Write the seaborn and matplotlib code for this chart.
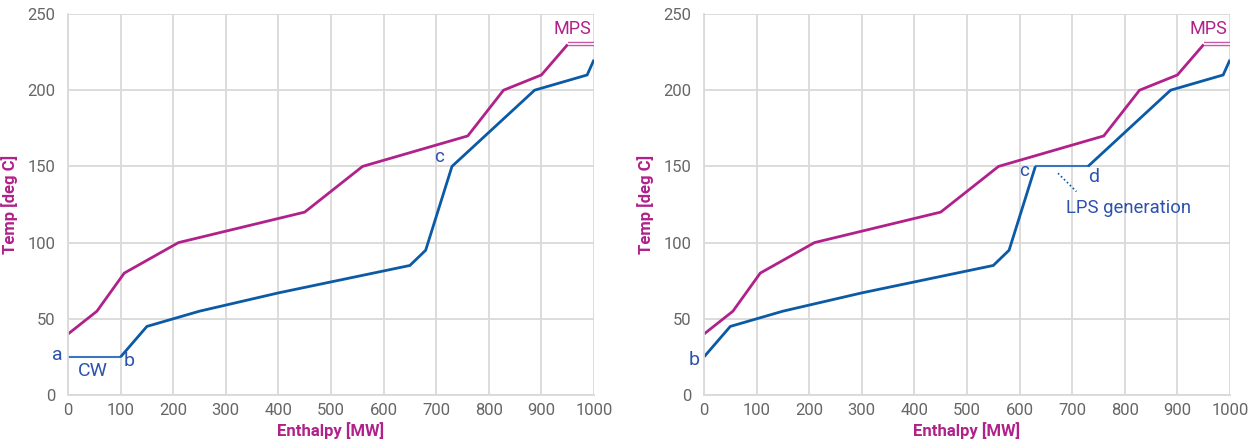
import matplotlib
matplotlib.use("Agg")
import matplotlib.pyplot as plt
from matplotlib.ticker import MultipleLocator
import seaborn as sns
import pandas as pd

sns.set_theme(style="white")
plt.rcParams['font.family'] = ['Roboto', 'DejaVu Sans']

# ---- data ----
hot_h = [0, 55, 107, 210, 450, 560, 760, 828, 900, 950]
hot_t = [40, 55, 80, 100, 120, 150, 170, 200, 210, 230]
mps_h = [950, 1000]
mps_t = [230, 230]

cold1_h = [100, 150, 250, 400, 650, 680, 730, 887, 987, 1000]
cold1_t = [25, 45, 55, 67, 85, 95, 150, 200, 210, 220]
cw_h = [0, 100]
cw_t = [25, 25]

cold2a_h = [0, 50, 150, 300, 550, 580, 630]
cold2a_t = [25, 45, 55, 67, 85, 95, 150]
lps_h = [630, 730]
lps_t = [150, 150]
cold2b_h = [730, 887, 987, 1000]
cold2b_t = [150, 200, 210, 220]

x_ticks = list(range(0, 1001, 100))
y_ticks = list(range(0, 251, 50))

MAG = "#b0218a"
MAG_LIGHT = "#c65aa9"
BLUE = "#0b5aa5"
BLUE_LIGHT = "#3a76c0"
TXT_BLUE = "#2d52ad"
GRID = "#d9d9d9"
TICK = "#666666"

fig = plt.figure(figsize=(12.54, 4.45), dpi=100)
ax1 = fig.add_axes([68/1254, 50/445, 526/1254, 381/445])
ax2 = fig.add_axes([704/1254, 50/445, 526/1254, 381/445])


def line(ax, h, t, color, lw):
    df = pd.DataFrame({"h": h, "t": t})
    sns.lineplot(data=df, x="h", y="t", ax=ax, color=color, linewidth=lw,
                 sort=False, estimator=None, solid_capstyle="butt",
                 solid_joinstyle="miter")


def style(ax):
    ax.set_xlim(0, 1000)
    ax.set_ylim(0, 250)
    ax.set_xticks(x_ticks)
    ax.set_yticks(y_ticks)
    ax.xaxis.set_minor_locator(MultipleLocator(25))
    ax.yaxis.set_minor_locator(MultipleLocator(10))
    ax.grid(True, which="major", color=GRID, linewidth=1.3)
    ax.set_axisbelow(True)
    for s in ["top", "right"]:
        ax.spines[s].set_visible(False)
    for s in ["left", "bottom"]:
        ax.spines[s].set_color(GRID)
        ax.spines[s].set_linewidth(1.3)
    ax.tick_params(which="major", length=0, labelsize=12, labelcolor=TICK)
    ax.tick_params(axis="y", which="major", pad=9)
    ax.tick_params(axis="x", which="major", pad=6)
    ax.tick_params(which="minor", direction="in", length=3, width=0.8,
                   color="#bfbfbf")
    ax.set_xlabel("Enthalpy [MW]", color=MAG, fontsize=12,
                  fontweight="bold", labelpad=3)
    ax.set_ylabel("Temp [deg C]", color=MAG, fontsize=12,
                  fontweight="bold")
    ax.yaxis.set_label_coords(-0.095, 0.5)


for ax in (ax1, ax2):
    style(ax)
    line(ax, hot_h, hot_t, MAG, 2.0)
    line(ax, mps_h, mps_t, MAG_LIGHT, 3.2)
    line(ax, mps_h, mps_t, "white", 1.2)
    ax.text(958, 234, "MPS", color=MAG, fontsize=13, ha="center",
            va="bottom")

# left panel
line(ax1, cw_h, cw_t, BLUE_LIGHT, 1.5)
line(ax1, cold1_h, cold1_t, BLUE, 2.0)
ax1.text(-10, 26, "a", color=TXT_BLUE, fontsize=14, ha="right",
         va="center", clip_on=False)
ax1.text(105, 22, "b", color=TXT_BLUE, fontsize=14, ha="left",
         va="center")
ax1.text(48, 16, "CW", color=TXT_BLUE, fontsize=14, ha="center",
         va="center")
ax1.text(715, 156, "c", color=TXT_BLUE, fontsize=13.5, ha="right",
         va="center")

# right panel
line(ax2, lps_h, lps_t, BLUE_LIGHT, 1.5)
line(ax2, cold2a_h, cold2a_t, BLUE, 2.0)
line(ax2, cold2b_h, cold2b_t, BLUE, 2.0)
ax2.text(-8, 23, "b", color=TXT_BLUE, fontsize=14, ha="right",
         va="center", clip_on=False)
ax2.text(618, 147, "c", color=TXT_BLUE, fontsize=13.5, ha="right",
         va="center")
ax2.text(730, 143, "d", color=TXT_BLUE, fontsize=14, ha="left",
         va="center")
ax2.plot([673, 708], [145.5, 133.5], color=BLUE, linewidth=1.2,
         linestyle=(0, (1, 1.5)))
ax2.text(688, 122.5, "LPS generation", color=TXT_BLUE, fontsize=13.3,
         ha="left", va="center")

fig.savefig("out.png", dpi=100)
